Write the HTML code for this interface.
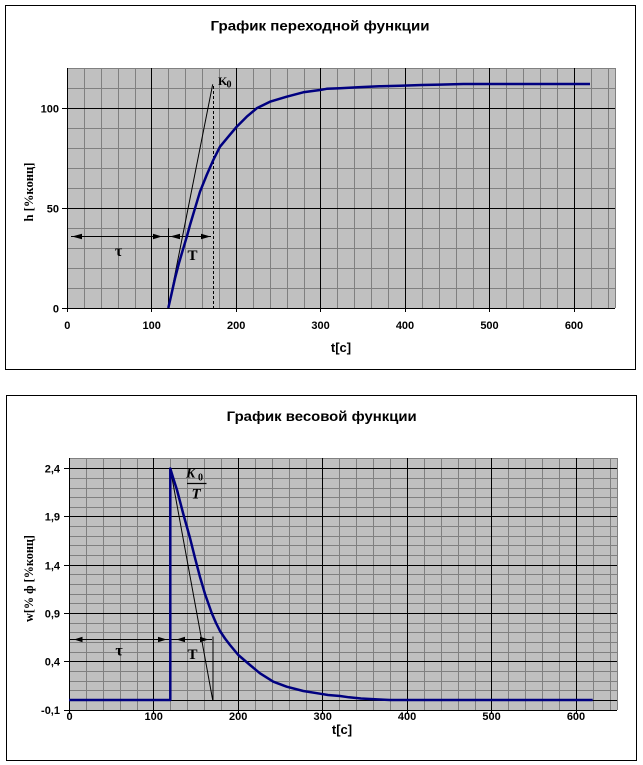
<!DOCTYPE html>
<html><head><meta charset="utf-8">
<style>
html,body{margin:0;padding:0;background:#fff;}
svg{display:block;}
.t{font-family:"Liberation Sans",Arial,sans-serif;font-weight:bold;fill:#000;}
.s{font-family:"Liberation Serif","Times New Roman",serif;font-weight:bold;fill:#000;}
</style></head>
<body>
<svg width="643" height="765" viewBox="0 0 643 765" xmlns="http://www.w3.org/2000/svg">
<!-- ============ TOP CHART ============ -->
<rect x="5.5" y="5.5" width="630" height="364" fill="#fff" stroke="#000" stroke-width="1"/>
<text class="t" x="320" y="30.5" font-size="14" text-anchor="middle" textLength="219" lengthAdjust="spacingAndGlyphs">График переходной функции</text>
<rect x="67" y="68" width="548" height="240" fill="#c0c0c0"/>
<g stroke="#808080" stroke-width="1" fill="none" shape-rendering="crispEdges">
<path d="M84.5 68V308M101.5 68V308M118.5 68V308M135.5 68V308M168.5 68V308M185.5 68V308M202.5 68V308M219.5 68V308M253.5 68V308M270.5 68V308M287.5 68V308M304.5 68V308M337.5 68V308M354.5 68V308M371.5 68V308M388.5 68V308M422.5 68V308M439.5 68V308M456.5 68V308M473.5 68V308M506.5 68V308M523.5 68V308M540.5 68V308M557.5 68V308M591.5 68V308M608.5 68V308"/>
<path d="M67 88.5H615M67 128.5H615M67 148.5H615M67 168.5H615M67 188.5H615M67 228.5H615M67 248.5H615M67 268.5H615M67 288.5H615"/>
<path d="M67 68.5H615.5V308"/>
</g>
<g stroke="#000" stroke-width="1" fill="none" shape-rendering="crispEdges">
<path d="M151.5 68V308M236.5 68V308M320.5 68V308M405.5 68V308M489.5 68V308M574.5 68V308"/>
<path d="M67 108.5H615M67 208.5H615"/>
<path d="M67.5 68V308.5H615"/>
<path d="M62 108.5H67M62 208.5H67M62 308.5H67"/>
<path d="M67.5 308V312M151.5 308V312M236.5 308V312M320.5 308V312M405.5 308V312M489.5 308V312M574.5 308V312"/>
</g>
<g class="t" font-size="11" text-anchor="end">
<text x="59" y="112.5">100</text>
<text x="59" y="212.5">50</text>
<text x="59" y="312.5">0</text>
</g>
<g class="t" font-size="11" text-anchor="middle">
<text x="67.3" y="329">0</text>
<text x="151.7" y="329">100</text>
<text x="236.2" y="329">200</text>
<text x="320.6" y="329">300</text>
<text x="405" y="329">400</text>
<text x="489.5" y="329">500</text>
<text x="574" y="329">600</text>
</g>
<text class="t" x="341" y="352" font-size="13" text-anchor="middle">t[c]</text>
<text class="s" x="0" y="0" font-size="13" text-anchor="middle" transform="translate(33,192) rotate(-90)" textLength="59" lengthAdjust="spacingAndGlyphs">h [%конц]</text>
<!-- annotations top -->
<g stroke="#000" stroke-width="1" fill="none">
<line x1="168.3" y1="308" x2="212.7" y2="84.3"/>
<line x1="213.5" y1="86" x2="213.5" y2="308" stroke-dasharray="3,2"/>
<line x1="168.5" y1="228" x2="168.5" y2="308"/>
<line x1="71" y1="236.5" x2="211" y2="236.5"/>
</g>
<g fill="#000">
<polygon points="72,236.5 82,233.8 82,239.2"/>
<polygon points="162,236.5 153,233.8 153,239.2"/>
<polygon points="170,236.5 180,233.8 180,239.2"/>
<polygon points="210.5,236.5 201,233.8 201,239.2"/>
</g>
<text class="s" x="118.5" y="256" font-size="16" text-anchor="middle">τ</text>
<text class="s" x="192.5" y="260" font-size="15" text-anchor="middle">T</text>
<text class="s" x="218" y="85" font-size="12">K</text>
<text class="s" x="226.5" y="87.5" font-size="10">0</text>
<polyline fill="none" stroke="#000080" stroke-width="2.5" stroke-linejoin="round" points="168.3,308 171.5,294 175,278.3 179,263 183.3,248.3 187,236 190,225 195,208.3 200,191.7 206.7,175 213.3,160 220,146.7 228.3,136.7 236.7,126.7 246.7,116.7 256.7,108.3 270,101.7 286.7,96.7 303.3,92.3 320,90 326.7,88.8 340,88.2 358,87.3 379.3,86.3 400,85.7 421.7,85 440,84.6 463.3,84 590,84"/>

<!-- ============ BOTTOM CHART ============ -->
<rect x="6.5" y="395.5" width="630" height="365" fill="#fff" stroke="#000" stroke-width="1"/>
<text class="t" x="321.7" y="421" font-size="14" text-anchor="middle" textLength="190" lengthAdjust="spacingAndGlyphs">График весовой функции</text>
<rect x="69" y="458" width="548" height="252" fill="#c0c0c0"/>
<g stroke="#808080" stroke-width="1" fill="none" shape-rendering="crispEdges">
<path d="M86.5 458V710M103.5 458V710M120.5 458V710M137.5 458V710M170.5 458V710M187.5 458V710M204.5 458V710M221.5 458V710M255.5 458V710M272.5 458V710M289.5 458V710M306.5 458V710M339.5 458V710M356.5 458V710M373.5 458V710M390.5 458V710M424.5 458V710M441.5 458V710M458.5 458V710M475.5 458V710M508.5 458V710M525.5 458V710M542.5 458V710M559.5 458V710M593.5 458V710M610.5 458V710"/>
<path d="M69 478.5H617M69 488.5H617M69 497.5H617M69 507.5H617M69 526.5H617M69 536.5H617M69 545.5H617M69 555.5H617M69 574.5H617M69 584.5H617M69 594.5H617M69 603.5H617M69 623.5H617M69 632.5H617M69 642.5H617M69 652.5H617M69 671.5H617M69 681.5H617M69 690.5H617"/>
<path d="M69 458.5H617.5V710"/>
</g>
<g stroke="#000" stroke-width="1" fill="none" shape-rendering="crispEdges">
<path d="M153.5 458V710M238.5 458V710M322.5 458V710M407.5 458V710M491.5 458V710M576.5 458V710"/>
<path d="M69 468.5H617M69 516.5H617M69 565.5H617M69 613.5H617M69 661.5H617M69 700.5H617"/>
<path d="M69.5 458V710.5H617"/>
<path d="M64 468.5H69M64 516.5H69M64 565.5H69M64 613.5H69M64 661.5H69M64 710.5H69"/>
<path d="M69.5 710V714M153.5 710V714M238.5 710V714M322.5 710V714M407.5 710V714M491.5 710V714M576.5 710V714"/>
</g>
<g class="t" font-size="11" text-anchor="end">
<text x="60" y="472.5">2,4</text>
<text x="60" y="520.5">1,9</text>
<text x="60" y="569.5">1,4</text>
<text x="60" y="617.5">0,9</text>
<text x="60" y="665.5">0,4</text>
<text x="60" y="714">-0,1</text>
</g>
<g class="t" font-size="11" text-anchor="middle">
<text x="69.5" y="720">0</text>
<text x="153.7" y="720">100</text>
<text x="238.2" y="720">200</text>
<text x="322.7" y="720">300</text>
<text x="407.1" y="720">400</text>
<text x="491.6" y="720">500</text>
<text x="576" y="720">600</text>
</g>
<text class="t" x="342" y="734" font-size="13" text-anchor="middle">t[c]</text>
<text class="s" x="0" y="0" font-size="13" text-anchor="middle" transform="translate(33,578.5) rotate(-90)" textLength="87" lengthAdjust="spacingAndGlyphs">w[% ф [%конц]</text>
<!-- annotations bottom -->
<g stroke="#000" stroke-width="1" fill="none">
<line x1="170.3" y1="468.5" x2="212.7" y2="700"/>
<line x1="213" y1="636.5" x2="213" y2="700"/>
<line x1="70" y1="639.5" x2="212" y2="639.5"/>
</g>
<g fill="#000">
<polygon points="74,639.5 82.5,636.8 82.5,642.2"/>
<polygon points="166.7,639.5 158,636.8 158,642.2"/>
<polygon points="176.5,639.5 185,636.8 185,642.2"/>
<polygon points="208.5,639.5 200,636.8 200,642.2"/>
</g>
<text class="s" x="119" y="655.5" font-size="16" text-anchor="middle">τ</text>
<text class="s" x="192.5" y="659" font-size="15" text-anchor="middle">T</text>
<text class="s" x="186" y="477.5" font-size="14" font-style="italic">K</text>
<text class="s" x="198" y="480.5" font-size="10">0</text>
<line x1="187" y1="483.5" x2="206.5" y2="483.5" stroke="#000" stroke-width="1.3"/>
<text class="s" x="191.5" y="498.5" font-size="15" font-style="italic">T</text>
<polyline fill="none" stroke="#000080" stroke-width="2.5" stroke-linejoin="round" points="69,700 170.3,700 170.3,468.5 173.5,479 177,490 183.3,514 190,538 195,558 200,577 205,594 211.7,613 216,623 220,631 225,638.5 230,645 238.3,655 250,665 260,673.3 273.3,681.7 286.7,686.7 303.3,691 320,693.7 328,695 340,696 349,697.3 361,698.5 382,699.6 390,700 592.7,700"/>
</svg>
</body></html>
